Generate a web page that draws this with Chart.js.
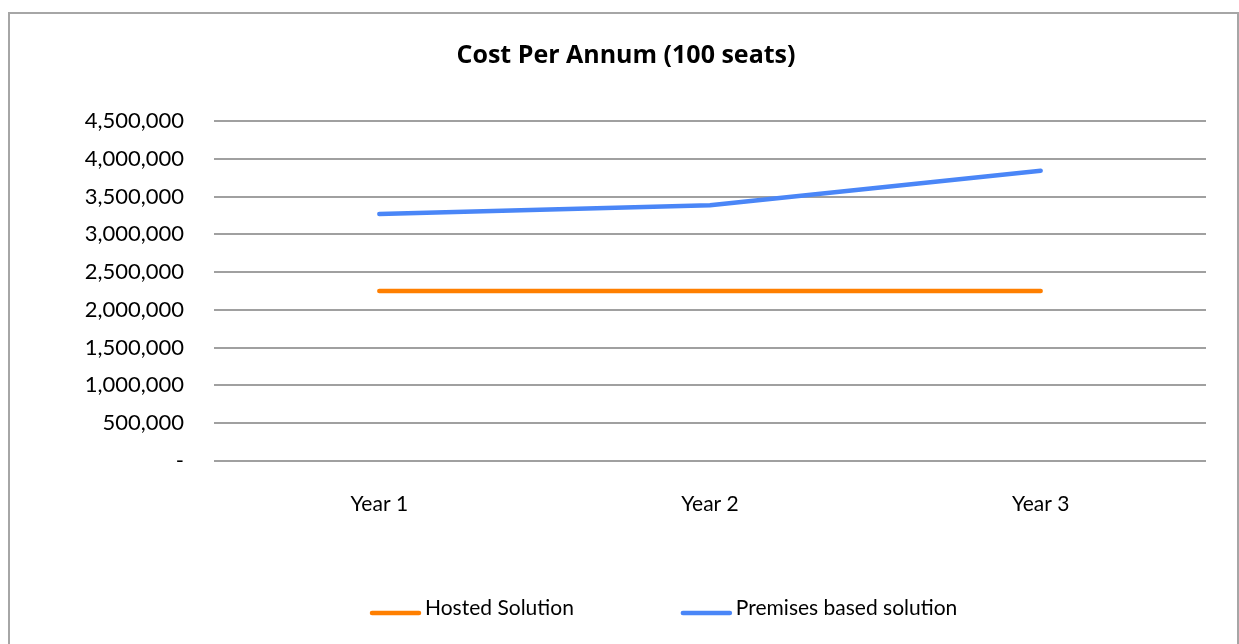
<!DOCTYPE html>
<html>
<head>
<meta charset="utf-8">
<script src="https://cdn.jsdelivr.net/npm/chart.js@4/dist/chart.umd.min.js"></script>
<style>
  html, body { margin: 0; padding: 0; background: #ffffff; }
  #wrap { position: relative; width: 1239px; height: 644px; }
</style>
</head>
<body>
<div id="wrap"><canvas id="chart" width="1239" height="644"></canvas></div>
<script>
// Annual cost comparison, 100 seats
const categories = ['Year 1', 'Year 2', 'Year 3'];
const hostedSolution = [2250000, 2250000, 2250000];
const premisesSolution = [3270000, 3385000, 3840000];
const seriesNames = ['Hosted Solution', 'Premises based solution'];
const chartTitle = 'Cost Per Annum (100 seats)';
const yMax = 4500000;
const yStep = 500000;

const FONT = 'Lato, "Open Sans", sans-serif';
const TITLE_FONT = '"Open Sans", Lato, sans-serif';
const GRID = '#a0a0a0';

// White background plus the outer frame around the chart
const framePlugin = {
  id: 'frame',
  beforeDraw(chart) {
    const ctx = chart.ctx;
    ctx.save();
    ctx.fillStyle = '#ffffff';
    ctx.fillRect(0, 0, chart.width, chart.height);
    ctx.strokeStyle = '#a6a6a6';
    ctx.lineWidth = 2;
    ctx.strokeRect(9, 13, 1229, 700);
    ctx.restore();
  }
};

// Legend row: a short line sample followed by the series name
const lineLegendPlugin = {
  id: 'lineLegend',
  afterDraw(chart, args, opts) {
    const ctx = chart.ctx;
    ctx.save();
    ctx.font = opts.font;
    ctx.textBaseline = 'middle';
    ctx.fillStyle = '#000000';
    let x = opts.startX;
    const y = opts.y;
    chart.data.datasets.forEach((ds) => {
      ctx.strokeStyle = ds.borderColor;
      ctx.lineWidth = 4.5;
      ctx.lineCap = 'round';
      ctx.beginPath();
      ctx.moveTo(x + 2, y + 5);
      ctx.lineTo(x + opts.sample - 2, y + 5);
      ctx.stroke();
      x += opts.sample + opts.gap;
      ctx.fillText(ds.label, x, y);
      x += ctx.measureText(ds.label).width + opts.itemGap;
    });
    ctx.restore();
  }
};

new Chart(document.getElementById('chart'), {
  type: 'line',
  data: {
    labels: categories,
    datasets: [
      {
        label: seriesNames[0],
        data: hostedSolution,
        borderColor: '#ff7f00',
        backgroundColor: '#ff7f00',
        borderWidth: 4.5,
        borderCapStyle: 'round',
        borderJoinStyle: 'round',
        pointRadius: 0,
        tension: 0
      },
      {
        label: seriesNames[1],
        data: premisesSolution,
        borderColor: '#4a86f7',
        backgroundColor: '#4a86f7',
        borderWidth: 4.5,
        borderCapStyle: 'round',
        borderJoinStyle: 'round',
        pointRadius: 0,
        tension: 0
      }
    ]
  },
  options: {
    responsive: false,
    animation: false,
    devicePixelRatio: 1,
    layout: { padding: { left: 46, right: 33, top: 0, bottom: 96 } },
    plugins: {
      legend: { display: false },
      tooltip: { enabled: false },
      title: {
        display: true,
        text: chartTitle,
        color: '#000000',
        font: { family: TITLE_FONT, size: 25, weight: 'bold' },
        padding: { top: 41, bottom: 50 }
      },
      lineLegend: {
        font: '21px ' + FONT,
        startX: 370,
        y: 608,
        sample: 51,
        gap: 4,
        itemGap: 107
      }
    },
    scales: {
      x: {
        offset: true,
        grid: { display: false, drawTicks: false },
        border: { display: false },
        ticks: {
          color: '#000000',
          padding: 31,
          font: { family: FONT, size: 21 }
        }
      },
      y: {
        min: 0,
        max: yMax,
        afterFit(scale) { scale.width = 168; },
        grid: { color: GRID, lineWidth: 2, drawTicks: false },
        border: { display: false },
        ticks: {
          stepSize: yStep,
          color: '#000000',
          padding: 30,
          font: { family: FONT, size: 22 },
          callback: (v) => v === 0 ? '-' : Number(v).toLocaleString('en-US')
        }
      }
    }
  },
  plugins: [framePlugin, lineLegendPlugin]
});
</script>
</body>
</html>
